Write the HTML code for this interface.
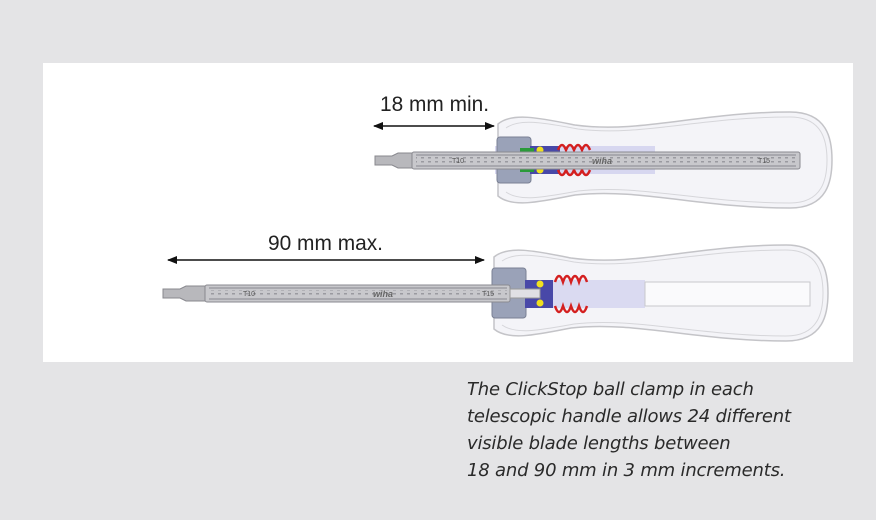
<!DOCTYPE html>
<html><head><meta charset="utf-8"><style>
html,body{margin:0;padding:0;background:#e4e4e6;width:876px;height:520px;overflow:hidden}
svg{position:absolute;left:0;top:0}
.cap{position:absolute;left:467px;top:376px;font-family:"DejaVu Sans","Liberation Sans",sans-serif;font-style:italic;font-size:18px;line-height:27px;color:#2a2a2a;letter-spacing:-0.2px}
</style></head><body>
<svg width="876" height="520" viewBox="0 0 876 520" xmlns="http://www.w3.org/2000/svg">
<defs>
<marker id="ah" markerWidth="10" markerHeight="8" refX="9" refY="4" orient="auto" markerUnits="userSpaceOnUse"><path d="M0,0 L10,4 L0,8 Z" fill="#111"/></marker>
<marker id="at" markerWidth="10" markerHeight="8" refX="1" refY="4" orient="auto" markerUnits="userSpaceOnUse"><path d="M10,0 L0,4 L10,8 Z" fill="#111"/></marker>
<pattern id="dots" width="7" height="4" patternUnits="userSpaceOnUse"><rect x="1" y="1" width="3" height="1.5" fill="#9a9aa0"/></pattern>
<g id="handle">
<path d="M498,124 C512,112 540,118 575,125 C640,134 700,112 790,112 C828,112 832,140 832,160 C832,180 828,208 790,208 C700,208 640,188 575,195 C540,202 512,208 498,196 Z" fill="#f4f4f8" stroke="#c4c4c8" stroke-width="1.5"/>
<path d="M506,128 C520,118 545,123 578,129 C640,137 700,117 790,117 C823,117 827,142 827,160 C827,178 823,203 790,203 C700,203 640,184 578,191 C545,197 520,202 506,192" fill="none" stroke="#d6d6da" stroke-width="1"/>
</g>
</defs>
<rect x="43" y="63" width="810" height="299" fill="#fff"/>

<!-- top screwdriver -->
<use href="#handle"/>
<rect x="495" y="146" width="160" height="28" fill="#cfcfee" opacity="0.8"/>
<rect x="497" y="137" width="34" height="46" rx="3" fill="#9aa2b8" stroke="#7a8094"/>
<rect x="530" y="146" width="30" height="28" fill="#4848a8"/>
<rect x="520" y="148" width="14" height="4" fill="#2a9a3a"/><rect x="520" y="168" width="14" height="4" fill="#2a9a3a"/>
<circle cx="540" cy="150" r="3.5" fill="#f0e020"/><circle cx="540" cy="170" r="3.5" fill="#f0e020"/>
<path d="M558,150 q4,-10 8,0 q4,-10 8,0 q4,-10 8,0 q4,-10 8,0 M558,170 q4,10 8,0 q4,10 8,0 q4,10 8,0 q4,10 8,0" fill="none" stroke="#d42020" stroke-width="2.5"/>
<rect x="412" y="152" width="388" height="17" rx="2" fill="#c8c8cc" stroke="#8a8a90"/>
<rect x="416" y="157" width="380" height="7" fill="url(#dots)"/>
<rect x="416" y="154" width="380" height="2" fill="#a8a8ae"/><rect x="416" y="165" width="380" height="2" fill="#a8a8ae"/>
<path d="M375,156 H392 L398,153 H412 V168 H398 L392,165 H375 Z" fill="#b8b8bc" stroke="#88888e"/>
<text x="452" y="163" font-family="Liberation Sans,sans-serif" font-size="7" fill="#555">T10</text>
<text x="758" y="163" font-family="Liberation Sans,sans-serif" font-size="7" fill="#555">T15</text>
<text x="592" y="164" font-family="Liberation Sans,sans-serif" font-size="9" font-style="italic" font-weight="bold" fill="#666">wiha</text>
<line x1="374" y1="126" x2="494" y2="126" stroke="#111" stroke-width="1.6" marker-start="url(#at)" marker-end="url(#ah)"/>
<text x="380" y="111" font-family="Liberation Sans,sans-serif" font-size="21" fill="#222" textLength="109" lengthAdjust="spacingAndGlyphs">18 mm min.</text>

<!-- bottom screwdriver -->
<g transform="translate(-4,133)"><use href="#handle"/></g>
<rect x="520" y="280" width="125" height="28" fill="#cfcfee" opacity="0.7"/>
<rect x="645" y="282" width="165" height="24" fill="#fafafc" stroke="#c8c8cc"/>
<rect x="492" y="268" width="34" height="50" rx="3" fill="#9aa2b8" stroke="#7a8094"/>
<rect x="525" y="280" width="28" height="28" fill="#4848a8"/>
<circle cx="540" cy="284" r="3.5" fill="#f0e020"/><circle cx="540" cy="303" r="3.5" fill="#f0e020"/>
<path d="M555,282 q4,-12 8,0 q4,-12 8,0 q4,-12 8,0 q4,-12 8,0 M555,306 q4,12 8,0 q4,12 8,0 q4,12 8,0 q4,12 8,0" fill="none" stroke="#d42020" stroke-width="2.5"/>
<rect x="205" y="285" width="305" height="17" rx="2" fill="#c8c8cc" stroke="#8a8a90"/>
<rect x="209" y="290" width="298" height="7" fill="url(#dots)"/>
<rect x="209" y="287" width="298" height="2" fill="#a8a8ae"/><rect x="209" y="298" width="298" height="2" fill="#a8a8ae"/>
<rect x="510" y="289" width="30" height="9" fill="#e0e0e4" stroke="#999"/>
<path d="M163,289 H180 L186,286 H205 V301 H186 L180,298 H163 Z" fill="#b8b8bc" stroke="#88888e"/>
<text x="243" y="296" font-family="Liberation Sans,sans-serif" font-size="7" fill="#555">T10</text>
<text x="482" y="296" font-family="Liberation Sans,sans-serif" font-size="7" fill="#555">T15</text>
<text x="373" y="297" font-family="Liberation Sans,sans-serif" font-size="9" font-style="italic" font-weight="bold" fill="#666">wiha</text>
<line x1="168" y1="260" x2="484" y2="260" stroke="#111" stroke-width="1.6" marker-start="url(#at)" marker-end="url(#ah)"/>
<text x="268" y="250" font-family="Liberation Sans,sans-serif" font-size="21" fill="#222" textLength="115" lengthAdjust="spacingAndGlyphs">90 mm max.</text>
</svg>
<div class="cap">The ClickStop ball clamp in each<br>telescopic handle allows 24 different<br>visible blade lengths between<br>18 and 90 mm in 3 mm increments.</div>
</body></html>
